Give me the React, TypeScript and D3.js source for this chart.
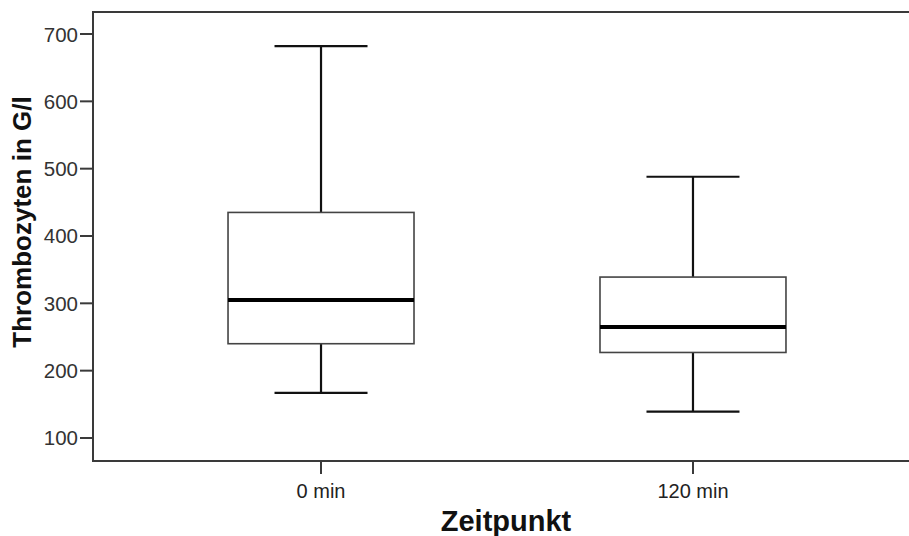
import React from 'react';
import * as d3 from 'd3';

// values (Thrombozyten in G/l)
const categories = ['0 min', '120 min'];
const whiskerLow = [167, 139];
const q1 = [240, 227];
const median = [305, 265];
const q3 = [435, 339];
const whiskerHigh = [682, 488];
const yTicks = [100, 200, 300, 400, 500, 600, 700];

const W = 909;
const H = 536;
const left = 93;
const top = 12;
const bottom = 461;
const right = 921; // frame runs past the visible edge

const App: React.FC = () => {
  const y = d3.scaleLinear().domain([65.8, 732.7]).range([bottom, top]);
  const x = d3.scalePoint<string>().domain(categories).range([left, right]).padding(0.613);
  const step = x.step();
  const boxW = step * 0.5;
  const capHalf = boxW * 0.25; // caps are half the box width
  const font = 'Arial, "Liberation Sans", sans-serif';

  return (
    <svg width={W} height={H} style={{ position: 'fixed', left: 0, top: 0, background: '#fff' }}>
      {/* frame */}
      <rect x={left} y={top} width={right - left} height={bottom - top} fill="#fff" stroke="#3a3a3a" strokeWidth={2} />

      {/* y axis ticks */}
      {yTicks.map(t => (
        <g key={t}>
          <line x1={80} x2={left} y1={y(t)} y2={y(t)} stroke="#3a3a3a" strokeWidth={2} />
          <text x={78} y={y(t) + 7.5} textAnchor="end" fontFamily={font} fontSize={20.5} fill="#333">{t}</text>
        </g>
      ))}

      {/* x axis ticks */}
      {categories.map(c => (
        <g key={c}>
          <line x1={x(c)} x2={x(c)} y1={bottom} y2={474} stroke="#3a3a3a" strokeWidth={2} />
          <text x={x(c)} y={498} textAnchor="middle" fontFamily={font} fontSize={20} fill="#222">{c}</text>
        </g>
      ))}

      {/* boxes */}
      {categories.map((c, i) => {
        const cx = x(c) as number;
        return (
          <g key={'b' + c}>
            <line x1={cx} x2={cx} y1={y(whiskerHigh[i])} y2={y(q3[i])} stroke="#111" strokeWidth={2.2} />
            <line x1={cx} x2={cx} y1={y(q1[i])} y2={y(whiskerLow[i])} stroke="#111" strokeWidth={2.2} />
            <line x1={cx - capHalf} x2={cx + capHalf} y1={y(whiskerHigh[i])} y2={y(whiskerHigh[i])} stroke="#111" strokeWidth={2.2} />
            <line x1={cx - capHalf} x2={cx + capHalf} y1={y(whiskerLow[i])} y2={y(whiskerLow[i])} stroke="#111" strokeWidth={2.2} />
            <rect x={cx - boxW / 2} y={y(q3[i])} width={boxW} height={y(q1[i]) - y(q3[i])}
              fill="#fff" stroke="#444" strokeWidth={1.6} />
            <line x1={cx - boxW / 2} x2={cx + boxW / 2} y1={y(median[i])} y2={y(median[i])} stroke="#000" strokeWidth={4} />
          </g>
        );
      })}

      {/* axis titles */}
      <text x={506} y={531} textAnchor="middle" fontFamily={font} fontWeight="bold" fontSize={29} fill="#111">Zeitpunkt</text>
      <text transform={`translate(31,222) rotate(-90)`} textAnchor="middle" fontFamily={font} fontWeight="bold" fontSize={26} fill="#111">Thrombozyten in G/l</text>
    </svg>
  );
};

export default App;
